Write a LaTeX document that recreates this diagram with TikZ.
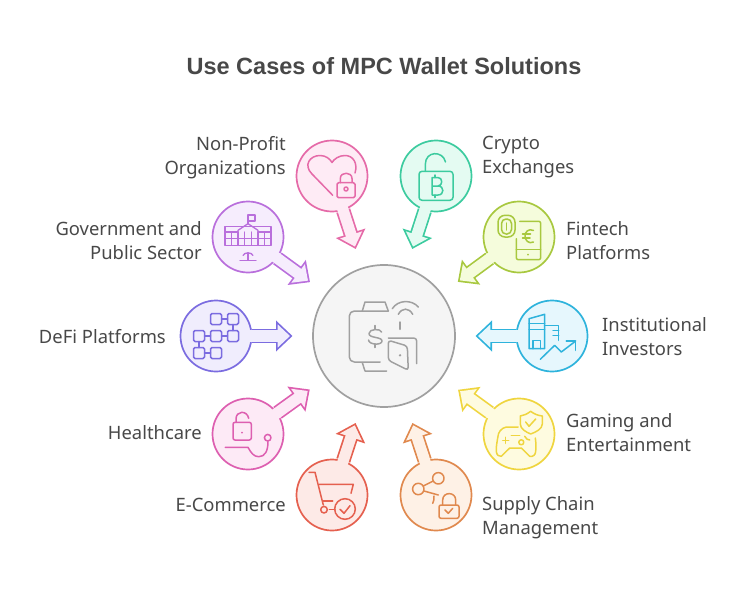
\documentclass[tikz,border=0pt]{standalone}
\usepackage{fontspec}
\setmainfont{Noto Sans}
\newfontfamily\titlefont{Liberation Sans}
\usetikzlibrary{arrows.meta,calc}
\pgfdeclarelayer{under}
\pgfsetlayers{under,main}
\definecolor{inkgray}{HTML}{484848}
\definecolor{hubline}{HTML}{A0A0A0}
\definecolor{hubfill}{HTML}{F5F5F5}
\definecolor{nonprofitline}{HTML}{E56AA8}
\definecolor{nonprofitfill}{HTML}{FEEBF5}
\definecolor{govline}{HTML}{B96FDC}
\definecolor{govfill}{HTML}{F6EDFD}
\definecolor{defiline}{HTML}{7B6CE0}
\definecolor{defifill}{HTML}{F0EDFD}
\definecolor{healthline}{HTML}{DD5FB0}
\definecolor{healthfill}{HTML}{FDEAF6}
\definecolor{shopline}{HTML}{E5604F}
\definecolor{shopfill}{HTML}{FDEAE7}
\definecolor{supplyline}{HTML}{E0894E}
\definecolor{supplyfill}{HTML}{FEF1E6}
\definecolor{gameline}{HTML}{EFD53F}
\definecolor{gamefill}{HTML}{FEFBE0}
\definecolor{investline}{HTML}{2EB3DC}
\definecolor{investfill}{HTML}{E6F7FD}
\definecolor{fintechline}{HTML}{A8C83F}
\definecolor{fintechfill}{HTML}{F5FCDC}
\definecolor{cryptoline}{HTML}{3CCB9F}
\definecolor{cryptofill}{HTML}{E4FBF2}
\tikzset{
  spot/.style={circle,minimum size=71pt,inner sep=0pt,line width=1.7pt},
  linkout/.style={line width=14.5pt,-{Triangle[length=16.5pt,width=30pt]}},
  linkin/.style={line width=11.1pt,shorten >=2.5pt,-{Triangle[length=12.3pt,width=22.3pt]}},
  icon/.style={line width=1.5pt,line cap=round,line join=round},
  lbl/.style={text=inkgray,font=\fontsize{18.4}{24}\selectfont,align=left,inner sep=0pt},
  lblr/.style={lbl,align=right,anchor=east},
  lbll/.style={lbl,anchor=west}
}
\begin{document}
\begin{tikzpicture}[x=1pt,y=1pt]
\useasboundingbox (0,0) rectangle (744,-599);
\node[text=inkgray,inner sep=0pt,font=\titlefont\fontsize{23.5}{28}\selectfont\bfseries] (title) at (384,-66) {Use Cases of MPC Wallet Solutions};
\node[circle,minimum size=142pt,inner sep=0pt,line width=1.7pt,draw=hubline,fill=hubfill] (hub) at (384,-336) {};
\foreach \s/\c/\x/\y in {nonprofit/nonprofit/332/176,gov/gov/248/237,defi/defi/216/336,
  health/health/248/434,shop/shop/332/495,supply/supply/436/495,game/game/519/434,
  invest/invest/552/336,fintech/fintech/519/237,crypto/crypto/436/176}
{
    \node[spot,draw=\c line,fill=\c fill] (\s) at (\x,-\y) {};
    \coordinate (\s tip) at ($(hub)!91.5pt!(\s)$);
    \begin{pgfonlayer}{under}
    \draw[linkout,\c line] (\s) -- (\s tip);
    \end{pgfonlayer}
    \draw[linkin,\c fill] (\s.center) -- (\s tip);
}
% hub icon
\begin{scope}[shift={(hub)},icon,hubline]
\draw[rounded corners=5pt] (-4,-26) -- (-34.7,-26) -- (-34.7,25) -- (4.3,25);
\draw (-21.7,25) -- (-19,34) -- (1,34) -- (4.3,25);
\draw (-21.7,-26.7) -- (-19,-35) -- (2.7,-35);
\draw (-2.5,4) .. controls (-3,7.5) and (-15,7.5) .. (-15,2.5) .. controls (-15,-2.5) and (-2,-0.5) .. (-2,-5) .. controls (-2,-9.5) and (-15,-9) .. (-15.5,-4);
\draw (-9,7) -- (-9,10.5) (-9,-8) -- (-9,-11.5);
\draw (8.3,27.3) .. controls (14,36.5) and (28,36.5) .. (34.3,29);
\draw (14.3,21.7) .. controls (18,28.5) and (25,28.5) .. (28.7,21.7);
\draw (16,14) -- (16,6.7);
\draw[rounded corners=3pt] (4.3,-2) -- (32.7,-2) -- (32.7,-27.7);
\draw[rounded corners=3pt] (4.3,-4.3) -- (23.3,-10) -- (24.3,-34.3) -- (4.3,-24.3) -- cycle;
\fill (16,-19.3) circle (1.3);
\end{scope}
% nonprofit
\begin{scope}[shift={(nonprofit)},icon,nonprofitline]
\draw (0.7,-19.3) -- (-20,2) .. controls (-29,11) and (-22,20.5) .. (-12,20.5) .. controls (-6,20.5) and (-2,17) .. (0,13.5) .. controls (2,17) and (7,20.5) .. (13,20.5) .. controls (21,20.5) and (26,13) .. (23,3);
\draw[rounded corners=1.5pt] (5,-6.7) rectangle (23,-21.7);
\draw (8.3,-6.7) -- (8.3,-2.5) .. controls (8.3,4.5) and (20,4.5) .. (20,-2.5) -- (20,-6.7);
\draw (14,-13) circle (2);
\end{scope}
% gov
\begin{scope}[shift={(gov)},icon,line width=1.3pt,govline]
\draw (-23,10.7) rectangle (23,-8.3);
\draw (-23,5) -- (-10,5) (10,5) -- (23,5) (-23,-1.7) -- (23,-1.7);
\foreach \i in {-16.7,-10,-3.3,3.3,10,16.7}
{
    \draw (\i,5) -- (\i,-8.3);
}
\draw (-10,5) -- (-10,6.7) -- (0,13.3) -- (10,6.7) -- (10,5);
\draw (0,13.3) -- (0,22) -- (7,22) -- (7,16) -- (0,16);
\draw (-8,-23.3) -- (8,-23.3) (0,-15.7) -- (0,-23.3);
\draw (-5,-18.5) .. controls (-4,-15) and (4,-15) .. (5,-18.5);
\end{scope}
% defi
\begin{scope}[shift={(defi)},icon,defiline]
\foreach \i/\j in {0/17,17/17,-17/0,0/0,17/0,-17/-17,0/-17}
{
    \draw[rounded corners=1.5pt] (\i-5.5,\j-5.5) rectangle (\i+5.5,\j+5.5);
}
\draw (5.5,17) -- (11.5,17) (-11.5,0) -- (-5.5,0) (5.5,0) -- (11.5,0);
\draw (17,11.5) -- (17,5.5) (-17,-5.5) -- (-17,-11.5) (-11.5,-17) -- (-5.5,-17);
\end{scope}
% health
\begin{scope}[shift={(health)},icon,healthline]
\draw[rounded corners=2pt] (-15,11.7) rectangle (3.3,-6);
\draw (-12,11.7) -- (-12,15) .. controls (-12,23.5) and (-1,24) .. (0.7,15.7);
\fill (-6,1.3) circle (1);
\draw (-22.7,-13.3) -- (0,-13.3) .. controls (3,-19) and (6,-22.7) .. (10.7,-22.7) .. controls (17,-22.7) and (20,-17) .. (20,-7.5);
\draw (19.7,-3.7) circle (3.3);
\end{scope}
% shop
\begin{scope}[shift={(shop)},icon,shopline]
\draw (-23,22.7) -- (-17,22.7) -- (-8.7,-10);
\draw (-12.7,10.7) -- (21.3,10.7) -- (19,1.7);
\draw (-8.7,-6) -- (0.7,-6);
\draw (-8,-14.7) circle (3.3);
\draw (-2.7,-14.7) -- (3,-14.7);
\draw (13,-14) circle (10.3);
\draw (8,-14.3) -- (12,-18.3) -- (18,-10.7);
\end{scope}
% supply
\begin{scope}[shift={(supply)},icon,supplyline]
\draw (2.3,16.7) circle (5.7);
\draw (-17.7,6) circle (5.7);
\draw (-12.7,9) -- (-2.7,14);
\draw (-12,4) -- (2.3,0);
\draw (-3.3,-8.3) .. controls (-2,-6) and (-2,-4) .. (-2,-1);
\draw[rounded corners=2pt] (3,-10) rectangle (23,-23.3);
\draw (6.7,-10) -- (6.7,-5) .. controls (6.7,3.5) and (19.7,3.5) .. (19.7,-5) -- (19.7,-10);
\draw (9,-15) -- (12.3,-18.3) -- (16.7,-13.3);
\end{scope}
% game
\begin{scope}[shift={(game)},icon,gameline]
\draw (11.7,22.7) .. controls (8,20) and (5,18.5) .. (1.3,18) -- (1.3,10) .. controls (1.3,5) and (7,2) .. (11.7,0) .. controls (17,2) and (23.3,5) .. (23.3,10) -- (23.3,18) .. controls (19,18.5) and (15,20) .. (11.7,22.7);
\draw (6.7,12) -- (10,7.7) -- (16.7,15);
\draw (0.7,-1.3) -- (-7.7,-1.3);
\draw (-1,7) -- (-12.7,7) .. controls (-18,6) and (-21,1) .. (-21,-2.3) .. controls (-22,-8) and (-23,-13) .. (-22.7,-17.3) .. controls (-22.5,-21) and (-20,-23) .. (-17.7,-22.3) -- (-9.3,-14) -- (2.3,-14) -- (10.7,-22.3) .. controls (14,-23) and (16.5,-21) .. (16.7,-17.3) .. controls (17,-12) and (17,-8) .. (16.3,-4);
\draw (5.7,-2.3) .. controls (7,-5) and (9,-6) .. (10.7,-6);
\draw (-16.3,-6.3) -- (-10.3,-6.3) (-13.3,-3.3) -- (-13.3,-9.3);
\draw (2.3,-8.3) circle (2.5);
\end{scope}
% invest
\begin{scope}[shift={(invest)},icon,investline]
\draw (-23,-12.7) -- (-23,17.3) -- (-7.3,21.7) -- (-7.3,-12.7) -- cycle;
\draw (-23,12.3) -- (-7.3,12.3) (-23,6.3) -- (-7.3,6.3);
\draw (-7.3,10.7) -- (6.7,10.7) -- (6.7,-4.3);
\draw (1,5.7) -- (6.7,5.7) (1,0.7) -- (6.7,0.7);
\draw (-19,-12.7) -- (-19,-4.3) -- (-11.7,-4.3) -- (-11.7,-12.7);
\draw (-11.7,-23.3) -- (2.7,-9.3) -- (9.3,-16) -- (23.7,-5);
\draw (14.3,-5) -- (23.7,-5) -- (23.7,-14.3);
\end{scope}
% fintech
\begin{scope}[shift={(fintech)},icon,fintechline]
\draw[rounded corners=7pt] (-21,21.7) rectangle (-4,0);
\draw[rounded corners=4.5pt] (-17.5,18) rectangle (-7.5,3);
\draw (-12.5,14) -- (-12.5,7);
\draw[rounded corners=2pt] (0.7,15.7) -- (21.7,15.7) -- (21.7,-22.7) -- (-2.7,-22.7) -- (-2.7,-1.7);
\draw (-2.7,-12.7) -- (21.7,-12.7);
\fill (9,-17.7) circle (1);
\draw (14.5,6.5) .. controls (9.5,9) and (6,5) .. (6,1) .. controls (6,-3) and (9.5,-7.5) .. (14.5,-5);
\draw (3.5,3) -- (11.5,3) (3.5,-1) -- (11,-1);
\end{scope}
% crypto
\begin{scope}[shift={(crypto)},icon,cryptoline]
\draw[rounded corners=3pt] (-17,4.7) rectangle (17,-24.3);
\draw (-10.7,4.7) -- (-10.7,11.5) .. controls (-10.7,25.5) and (7,25.5) .. (9.5,14);
\draw (-4,-1.5) -- (-4,-19) (-4,-1.5) -- (2,-1.5) .. controls (7,-1.5) and (7,-10) .. (2,-10) -- (-4,-10) (2,-10) .. controls (8.5,-10) and (8.5,-19) .. (2,-19) -- (-4,-19);
\draw (-1,-1.5) -- (-1,1) (-1,-19) -- (-1,-21.5);
\end{scope}
% labels
\node[lblr] (nonprofittext) at (286,-157.5) {Non-Profit\\Organizations};
\node[lblr] (govtext) at (202,-241) {Government and\\Public Sector};
\node[lblr] (defitext) at (166,-337) {DeFi Platforms};
\node[lblr] (healthtext) at (202,-433) {Healthcare};
\node[lblr] (shoptext) at (286,-505) {E-Commerce};
\node[lbll] (supplytext) at (482,-517.5) {Supply Chain\\Management};
\node[lbll] (gametext) at (566,-433) {Gaming and\\Entertainment};
\node[lbll] (investtext) at (602,-337) {Institutional\\Investors};
\node[lbll] (fintechtext) at (566,-241) {Fintech\\Platforms};
\node[lbll] (cryptotext) at (482,-157.5) {Crypto\\Exchanges};
\end{tikzpicture}
\end{document}
